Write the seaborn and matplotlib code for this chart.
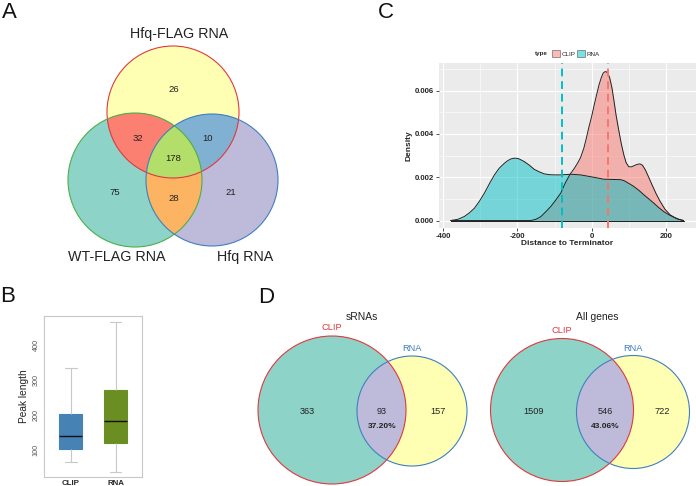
import numpy as np
import pandas as pd
import matplotlib
matplotlib.use("Agg")
import matplotlib.pyplot as plt
from matplotlib.patches import Circle, Polygon, Patch
import seaborn as sns

sns.set_theme(style="white")
plt.rcParams['font.family'] = ['Liberation Sans', 'DejaVu Sans']
plt.rcParams['axes.unicode_minus'] = False

# ---------------- data ----------------
# Panel A: three-set Venn
venn3_names = ["Hfq-FLAG RNA", "WT-FLAG RNA", "Hfq RNA"]
venn3_only = [26, 75, 21]          # Hfq-FLAG only, WT-FLAG only, Hfq only
venn3_pairs = [32, 10, 28]         # HfqFLAG&WT, HfqFLAG&Hfq, WT&Hfq
venn3_all = 178

# Panel B: boxplot five-number summaries
box_groups = ["CLIP", "RNA"]
box_clip = [66, 105, 140, 203, 336]
box_rna = [39, 120, 185, 271, 465]

# Panel C: densities
clip_x = [-380, -164, -150, -137, -124, -110, -97, -83, -72, -61, -56, -47, -38, -30, -21, -14, -7, 0, 6, 13, 20, 26, 31, 35, 39.4, 44, 49, 55, 60, 66, 73, 80, 87, 93, 100, 107, 114, 122, 130, 137, 145, 154, 163, 174, 185, 198, 212, 230, 248]
clip_y = [0, 0, 0.00006, 0.00018, 0.0004, 0.00065, 0.00094, 0.00127, 0.0017, 0.00205, 0.00219, 0.0024, 0.00265, 0.0029, 0.00334, 0.00382, 0.00434, 0.0048, 0.00527, 0.00578, 0.00627, 0.0066, 0.00681, 0.00687, 0.00688, 0.0068, 0.00658, 0.00612, 0.00557, 0.00487, 0.00419, 0.00355, 0.00303, 0.00268, 0.00249, 0.00248, 0.00253, 0.00259, 0.00262, 0.00256, 0.00234, 0.002, 0.00165, 0.00124, 0.00088, 0.00052, 0.00026, 0.00008, 0]
rna_x = [-380, -360, -343, -330, -316, -303, -289, -276, -262, -249, -235, -226, -217, -210, -204, -197, -190, -182, -168, -155, -141, -128, -114, -101, -83, -56, -30, 6, 33, 55, 78, 88, 96, 105, 114, 128, 141, 155, 168, 181, 194, 208, 221, 235, 248]
rna_y = [0, 0.00006, 0.00019, 0.00035, 0.00057, 0.00088, 0.00127, 0.00169, 0.00211, 0.00242, 0.00265, 0.00277, 0.00285, 0.00288, 0.00288, 0.00286, 0.0028, 0.00273, 0.00256, 0.00237, 0.00225, 0.00216, 0.00212, 0.00211, 0.00211, 0.00214, 0.00211, 0.002, 0.00191, 0.0019, 0.00189, 0.00184, 0.00176, 0.00167, 0.00157, 0.00139, 0.00119, 0.00099, 0.0008, 0.0006, 0.00042, 0.00027, 0.00016, 0.00006, 0]
density_types = ["CLIP", "RNA"]
type_means = [43, -80]

# Panel D: two-set Venns
venn2_titles = ["sRNAs", "All genes"]
venn2_clip_only = [363, 1509]
venn2_shared = [93, 546]
venn2_rna_only = [157, 722]
venn2_pct = ["37.20%", "43.06%"]

# ---------------- figure ----------------
W, H = 696, 486
fig = plt.figure(figsize=(W / 100, H / 100), dpi=100)
fig.patch.set_facecolor("white")
bg = fig.add_axes([0, 0, 1, 1])
bg.set_xlim(0, W)
bg.set_ylim(H, 0)
bg.axis("off")
bg.set_zorder(0)

set3 = sns.color_palette("Set3")


def inter_poly(circles, n=1440):
    pts = []
    for i, (cx, cy, r) in enumerate(circles):
        t = np.linspace(0, 2 * np.pi, n, endpoint=False)
        px, py = cx + r * np.cos(t), cy + r * np.sin(t)
        m = np.ones(n, bool)
        for j, (ox, oy, orr) in enumerate(circles):
            if j != i:
                m &= (px - ox) ** 2 + (py - oy) ** 2 <= orr ** 2 + 1e-6
        pts.append(np.column_stack([px[m], py[m]]))
    P = np.vstack(pts)
    c = P.mean(axis=0)
    ang = np.arctan2(P[:, 1] - c[1], P[:, 0] - c[0])
    return P[np.argsort(ang)]


# ----- Panel A -----
cA = (173, 112, 66)   # Hfq-FLAG
cB = (135, 180, 67)   # WT-FLAG
cC = (212, 180, 66)   # Hfq
colA, colB, colC = set3[1], set3[0], set3[2]
for (cx, cy, r), col in [(cA, colA), (cB, colB), (cC, colC)]:
    bg.add_patch(Circle((cx, cy), r, facecolor=col, edgecolor="none"))
for circs, col in [((cA, cB), set3[3]), ((cA, cC), set3[4]), ((cB, cC), set3[5])]:
    bg.add_patch(Polygon(inter_poly(circs), closed=True, facecolor=col, edgecolor="none"))
bg.add_patch(Polygon(inter_poly((cA, cB, cC)), closed=True, facecolor=set3[6], edgecolor="none"))
for (cx, cy, r), ec in [(cA, "#E0393E"), (cB, "#4DAF4A"), (cC, "#3F7FC0")]:
    bg.add_patch(Circle((cx, cy), r, facecolor="none", edgecolor=ec, lw=0.8))

bg.text(179, 34, venn3_names[0], ha="center", va="center", fontsize=10.3, color="#222222")
bg.text(117, 257, venn3_names[1], ha="center", va="center", fontsize=10.3, color="#222222")
bg.text(245, 257, venn3_names[2], ha="center", va="center", fontsize=10.3, color="#222222")
num_pos = [(174, 90), (115, 192), (231, 192)]
for (x, y), v in zip(num_pos, venn3_only):
    bg.text(x, y, str(v), ha="center", va="center", fontsize=6.8, color="#222222")
pair_pos = [(138, 138), (208, 138), (174, 198)]
for (x, y), v in zip(pair_pos, venn3_pairs):
    bg.text(x, y, str(v), ha="center", va="center", fontsize=6.8, color="#222222")
bg.text(173, 158, str(venn3_all), ha="center", va="center", fontsize=6.8, color="#222222")

# ----- Panel D -----
d_circ = [((332, 410, 74), (412, 411, 55)), ((562, 410, 71.5), (633, 412, 56.5))]
d_title_x = [362, 597]
for k in range(2):
    c1, c2 = d_circ[k]
    bg.add_patch(Circle(c1[:2], c1[2], facecolor=set3[0], edgecolor="none"))
    bg.add_patch(Circle(c2[:2], c2[2], facecolor=set3[1], edgecolor="none"))
    bg.add_patch(Polygon(inter_poly((c1, c2)), closed=True, facecolor=set3[2], edgecolor="none"))
    bg.add_patch(Circle(c1[:2], c1[2], facecolor="none", edgecolor="#E0393E", lw=0.8))
    bg.add_patch(Circle(c2[:2], c2[2], facecolor="none", edgecolor="#3F7FC0", lw=0.8))
    bg.text(d_title_x[k], 317, venn2_titles[k], ha="center", va="center", fontsize=7.4, color="#222222")
    bg.text(c1[0], c1[1] - c1[2] - 4, "CLIP", ha="center", va="bottom", fontsize=6.7, color="#E0393E")
    bg.text(c2[0], c2[1] - c2[2] - 3, "RNA", ha="center", va="bottom", fontsize=6.7, color="#3F7FC0")
    xo = [307, 534][k]
    xs = [382, 605][k]
    xr = [438, 662][k]
    bg.text(xo, 411, str(venn2_clip_only[k]), ha="center", va="center", fontsize=6.6, color="#222222")
    bg.text(xs, 411, str(venn2_shared[k]), ha="center", va="center", fontsize=6.6, color="#222222")
    bg.text(xs, 426, venn2_pct[k], ha="center", va="center", fontsize=6.0, fontweight="bold", color="#222222")
    bg.text(xr, 411, str(venn2_rna_only[k]), ha="center", va="center", fontsize=6.6, color="#222222")

# panel letters
for lab, (x, y) in zip("ABCD", [(2, 13), (0, 296), (378, 13), (258, 297)]):
    bg.text(x, y, lab, ha="left", va="center", fontsize=16, color="#111111")

# ----- Panel B: boxplot -----
axB = fig.add_axes([44 / W, (H - 477) / H, 98 / W, 161 / H])
axB.set_zorder(2)
df_box = pd.DataFrame({
    "group": [box_groups[0]] * len(box_clip) + [box_groups[1]] * len(box_rna),
    "Peak length": box_clip + box_rna,
})
sns.boxplot(data=df_box, x="group", y="Peak length", hue="group",
            palette=["#4682B4", "#6B8E23"], saturation=1, width=0.51,
            whis=10, legend=False, ax=axB, linewidth=0.8,
            whiskerprops=dict(color="#C8C8C8"), capprops=dict(color="#C8C8C8"),
            medianprops=dict(color="#111111", linewidth=1.0), showfliers=False)
for p in axB.patches:
    p.set_edgecolor(p.get_facecolor())
axB.set_xlim(-0.6, 1.59)
axB.set_ylim(24, 483)
axB.set_yticks([100, 200, 300, 400])
axB.set_xlabel("")
axB.set_ylabel("Peak length", fontsize=7.3, color="#222222", labelpad=3)
axB.tick_params(axis="y", labelsize=5.2, labelcolor="#555555", length=0, pad=3)
for t in axB.get_yticklabels():
    t.set_rotation(90)
    t.set_va("center")
axB.tick_params(axis="x", labelsize=5.7, length=0, pad=2)
for t in axB.get_xticklabels():
    t.set_fontweight("bold")
for s in axB.spines.values():
    s.set_visible(True)
    s.set_color("#C8C8C8")
    s.set_linewidth(0.8)
axB.set_facecolor("white")

# ----- Panel C: density -----
axC = fig.add_axes([439 / W, (H - 228) / H, 257 / W, 165 / H])
axC.set_zorder(2)
axC.set_facecolor("#EBEBEB")
cols = {"CLIP": "#F8766D", "RNA": "#00BFC4"}
axC.set_xticks([-300, -100, 100], minor=True)
axC.set_yticks([0.001, 0.003, 0.005, 0.007], minor=True)
axC.set_xticks([-400, -200, 0, 200])
axC.set_yticks([0, 0.002, 0.004, 0.006])
axC.grid(True, which="major", color="white", lw=0.8)
axC.grid(True, which="minor", color="white", lw=0.4)
axC.set_axisbelow(True)
for xs_, ys_, t in [(clip_x, clip_y, "CLIP"), (rna_x, rna_y, "RNA")]:
    axC.fill_between(xs_, ys_, 0, color=cols[t], alpha=0.5, lw=0, zorder=2)
    sns.lineplot(x=xs_, y=ys_, color="#222222", lw=0.7, ax=axC, zorder=3, sort=False)
    axC.plot([xs_[0], xs_[-1]], [0, 0], color="#222222", lw=0.7, zorder=3)
for t, m in zip(density_types, type_means):
    axC.axvline(m, color=cols[t], ls=(0, (4, 2.5)), lw=1.4, zorder=4)
axC.set_xlim(-411.5, 281.5)
axC.set_ylim(-0.000344, 0.00728)
for s in axC.spines.values():
    s.set_visible(False)
axC.tick_params(axis="both", which="major", length=2, width=0.6, color="#333333",
                labelsize=5.6, pad=1.5, bottom=True, left=True)
axC.tick_params(axis="both", which="minor", length=0)
axC.set_yticklabels(["0.000", "0.002", "0.004", "0.006"])
for t in axC.get_xticklabels() + axC.get_yticklabels():
    t.set_fontweight("bold")
axC.set_xlabel("Distance to Terminator", fontsize=6.0, fontweight="bold", labelpad=0)
axC.set_ylabel("Density", fontsize=6.0, fontweight="bold", labelpad=2)

handles = [Patch(facecolor=cols[t], alpha=0.5, edgecolor="#222222", lw=0.6) for t in density_types]
leg = fig.legend(handles, density_types, loc="center left",
                 bbox_to_anchor=(549 / W, 1 - 53.5 / H), ncol=2, frameon=False,
                 fontsize=4.5, handlelength=1.3, handleheight=1.4, handletextpad=0.2,
                 columnspacing=0.3, borderpad=0)
fig.text(535 / W, 1 - 53.5 / H, "type", fontsize=4.5, fontweight="bold", va="center", ha="left")

fig.savefig("out.png", dpi=100)
